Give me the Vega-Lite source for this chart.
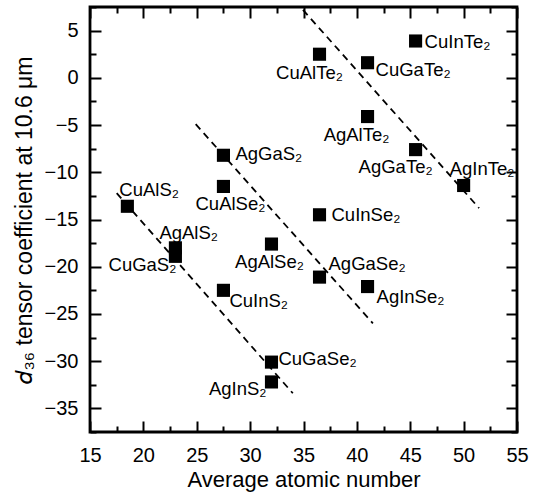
{
  "$schema": "https://vega.github.io/schema/vega-lite/v6.json",
  "width": 427,
  "height": 425,
  "autosize": {"type": "none"},
  "padding": {"left": 90, "top": 7, "right": 23, "bottom": 63},
  "config": {
    "view": {"stroke": "black", "strokeWidth": 2.8},
    "font": "Liberation Sans",
    "text": {"fontSize": 18.5, "color": "black", "baseline": "middle"},
    "axis": {"domain": false, "grid": false, "tickColor": "black", "tickWidth": 2, "labelColor": "black", "titleColor": "black", "labelFont": "Liberation Sans", "titleFont": "Liberation Sans", "titleFontWeight": "normal"}
  },
  "resolve": {"axis": {"x": "independent", "y": "independent"}},
  "data": {"name": "pts", "values": [
    {"name": "CuAlS₂", "x": 18.5, "y": -13.6},
    {"name": "AgAlS₂", "x": 23, "y": -18},
    {"name": "CuGaS₂", "x": 23, "y": -18.9},
    {"name": "CuInS₂", "x": 27.5, "y": -22.5},
    {"name": "CuGaSe₂", "x": 32, "y": -30.1},
    {"name": "AgInS₂", "x": 32, "y": -32.2},
    {"name": "AgGaS₂", "x": 27.5, "y": -8.2},
    {"name": "CuAlSe₂", "x": 27.5, "y": -11.5},
    {"name": "AgAlSe₂", "x": 32, "y": -17.6},
    {"name": "AgGaSe₂", "x": 36.5, "y": -21.1},
    {"name": "CuInSe₂", "x": 36.5, "y": -14.5},
    {"name": "AgInSe₂", "x": 41, "y": -22.1},
    {"name": "AgInTe₂", "x": 50, "y": -11.4},
    {"name": "AgGaTe₂", "x": 45.5, "y": -7.6},
    {"name": "AgAlTe₂", "x": 41, "y": -4.1},
    {"name": "CuGaTe₂", "x": 41, "y": 1.6},
    {"name": "CuAlTe₂", "x": 36.5, "y": 2.5},
    {"name": "CuInTe₂", "x": 45.5, "y": 3.9}
  ]},
  "layer": [
    {
      "mark": {"type": "square", "size": 172, "color": "black", "opacity": 1},
      "encoding": {
        "x": {"field": "x", "type": "quantitative", "scale": {"domain": [15, 55], "nice": false, "zero": false},
          "axis": {"orient": "bottom", "values": [15, 20, 25, 30, 35, 40, 45, 50, 55], "tickSize": -11, "labelPadding": 24, "labelFontSize": 20, "labelFlush": false, "title": "Average atomic number", "titleFontSize": 22, "titlePadding": 4}},
        "y": {"field": "y", "type": "quantitative", "scale": {"domain": [-37.5, 7.5], "nice": false, "zero": false},
          "axis": {"orient": "left", "values": [-35, -30, -25, -20, -15, -10, -5, 0, 5], "tickSize": -11, "labelPadding": 23, "labelFontSize": 20, "labelFlush": false, "title": "𝑑₃₆ tensor coefficient at 10.6 μm", "titleFontSize": 23, "titlePadding": 8}}
      }
    },
    {
      "data": {"values": [
        {"line": "S", "x": 17.5, "y": -12.2}, {"line": "S", "x": 34.0, "y": -33.4},
        {"line": "Se", "x": 24.9, "y": -4.9}, {"line": "Se", "x": 41.5, "y": -26.0},
        {"line": "Te", "x": 34.95, "y": 7.2}, {"line": "Te", "x": 51.45, "y": -13.8}
      ]},
      "mark": {"type": "line", "color": "black", "strokeWidth": 1.8, "strokeDash": [7, 5]},
      "encoding": {
        "x": {"field": "x", "type": "quantitative", "axis": {"orient": "top", "values": [15, 20, 25, 30, 35, 40, 45, 50, 55], "tickSize": -11, "labels": false, "title": null}},
        "y": {"field": "y", "type": "quantitative", "axis": {"orient": "right", "values": [-35, -30, -25, -20, -15, -10, -5, 0, 5], "tickSize": -11, "labels": false, "title": null}},
        "detail": {"field": "line"}
      }
    },
    {
      "transform": [{"filter": {"field": "name", "oneOf": ["CuInTe₂"]}}],
      "mark": {"type": "text", "align": "left", "dx": 9, "dy": 1},
      "encoding": {
        "x": {"field": "x", "type": "quantitative", "axis": {"orient": "bottom", "values": [17.5, 22.5, 27.5, 32.5, 37.5, 42.5, 47.5, 52.5], "tickSize": -6, "labels": false, "title": null}},
        "y": {"field": "y", "type": "quantitative", "axis": {"orient": "left", "values": [-37.5, -32.5, -27.5, -22.5, -17.5, -12.5, -7.5, -2.5, 2.5, 7.5], "tickSize": -6, "labels": false, "title": null}},
        "text": {"field": "name"}
      }
    },
    {
      "transform": [{"filter": {"field": "name", "oneOf": ["CuInSe₂"]}}],
      "mark": {"type": "text", "align": "left", "dx": 12, "dy": 0},
      "encoding": {
        "x": {"field": "x", "type": "quantitative", "axis": {"orient": "top", "values": [17.5, 22.5, 27.5, 32.5, 37.5, 42.5, 47.5, 52.5], "tickSize": -6, "labels": false, "title": null}},
        "y": {"field": "y", "type": "quantitative", "axis": {"orient": "right", "values": [-37.5, -32.5, -27.5, -22.5, -17.5, -12.5, -7.5, -2.5, 2.5, 7.5], "tickSize": -6, "labels": false, "title": null}},
        "text": {"field": "name"}
      }
    },
    {
      "transform": [{"filter": {"field": "name", "oneOf": ["AgGaS₂"]}}],
      "mark": {"type": "text", "align": "left", "dx": 12, "dy": -1},
      "encoding": {"x": {"field": "x", "type": "quantitative", "axis": null}, "y": {"field": "y", "type": "quantitative", "axis": null}, "text": {"field": "name"}}
    },
    {
      "transform": [{"filter": {"field": "name", "oneOf": ["CuGaTe₂"]}}],
      "mark": {"type": "text", "align": "left", "dx": 8, "dy": 7},
      "encoding": {"x": {"field": "x", "type": "quantitative", "axis": null}, "y": {"field": "y", "type": "quantitative", "axis": null}, "text": {"field": "name"}}
    },
    {
      "transform": [{"filter": {"field": "name", "oneOf": ["CuGaSe₂"]}}],
      "mark": {"type": "text", "align": "left", "dx": 7, "dy": -3},
      "encoding": {"x": {"field": "x", "type": "quantitative", "axis": null}, "y": {"field": "y", "type": "quantitative", "axis": null}, "text": {"field": "name"}}
    },
    {
      "transform": [{"filter": {"field": "name", "oneOf": ["CuInS₂"]}}],
      "mark": {"type": "text", "align": "left", "dx": 6, "dy": 11},
      "encoding": {"x": {"field": "x", "type": "quantitative", "axis": null}, "y": {"field": "y", "type": "quantitative", "axis": null}, "text": {"field": "name"}}
    },
    {
      "transform": [{"filter": {"field": "name", "oneOf": ["AgInSe₂"]}}],
      "mark": {"type": "text", "align": "left", "dx": 9, "dy": 10},
      "encoding": {"x": {"field": "x", "type": "quantitative", "axis": null}, "y": {"field": "y", "type": "quantitative", "axis": null}, "text": {"field": "name"}}
    },
    {
      "transform": [{"filter": {"field": "name", "oneOf": ["AgGaSe₂"]}}],
      "mark": {"type": "text", "align": "left", "dx": 9, "dy": -13},
      "encoding": {"x": {"field": "x", "type": "quantitative", "axis": null}, "y": {"field": "y", "type": "quantitative", "axis": null}, "text": {"field": "name"}}
    },
    {
      "transform": [{"filter": {"field": "name", "oneOf": ["CuAlS₂"]}}],
      "mark": {"type": "text", "align": "left", "dx": -8, "dy": -16},
      "encoding": {"x": {"field": "x", "type": "quantitative", "axis": null}, "y": {"field": "y", "type": "quantitative", "axis": null}, "text": {"field": "name"}}
    },
    {
      "transform": [{"filter": {"field": "name", "oneOf": ["AgAlS₂"]}}],
      "mark": {"type": "text", "align": "left", "dx": -16, "dy": -15},
      "encoding": {"x": {"field": "x", "type": "quantitative", "axis": null}, "y": {"field": "y", "type": "quantitative", "axis": null}, "text": {"field": "name"}}
    },
    {
      "transform": [{"filter": {"field": "name", "oneOf": ["AgInTe₂"]}}],
      "mark": {"type": "text", "align": "left", "dx": -14, "dy": -17},
      "encoding": {"x": {"field": "x", "type": "quantitative", "axis": null}, "y": {"field": "y", "type": "quantitative", "axis": null}, "text": {"field": "name"}}
    },
    {
      "transform": [{"filter": {"field": "name", "oneOf": ["CuAlSe₂"]}}],
      "mark": {"type": "text", "align": "center", "dx": 7, "dy": 18},
      "encoding": {"x": {"field": "x", "type": "quantitative", "axis": null}, "y": {"field": "y", "type": "quantitative", "axis": null}, "text": {"field": "name"}}
    },
    {
      "transform": [{"filter": {"field": "name", "oneOf": ["AgAlSe₂"]}}],
      "mark": {"type": "text", "align": "center", "dx": -2, "dy": 18},
      "encoding": {"x": {"field": "x", "type": "quantitative", "axis": null}, "y": {"field": "y", "type": "quantitative", "axis": null}, "text": {"field": "name"}}
    },
    {
      "transform": [{"filter": {"field": "name", "oneOf": ["AgAlTe₂"]}}],
      "mark": {"type": "text", "align": "center", "dx": -11, "dy": 18},
      "encoding": {"x": {"field": "x", "type": "quantitative", "axis": null}, "y": {"field": "y", "type": "quantitative", "axis": null}, "text": {"field": "name"}}
    },
    {
      "transform": [{"filter": {"field": "name", "oneOf": ["CuAlTe₂"]}}],
      "mark": {"type": "text", "align": "center", "dx": -10, "dy": 19},
      "encoding": {"x": {"field": "x", "type": "quantitative", "axis": null}, "y": {"field": "y", "type": "quantitative", "axis": null}, "text": {"field": "name"}}
    },
    {
      "transform": [{"filter": {"field": "name", "oneOf": ["AgGaTe₂"]}}],
      "mark": {"type": "text", "align": "center", "dx": -20, "dy": 17},
      "encoding": {"x": {"field": "x", "type": "quantitative", "axis": null}, "y": {"field": "y", "type": "quantitative", "axis": null}, "text": {"field": "name"}}
    },
    {
      "transform": [{"filter": {"field": "name", "oneOf": ["CuGaS₂"]}}],
      "mark": {"type": "text", "align": "right", "dx": 1, "dy": 9},
      "encoding": {"x": {"field": "x", "type": "quantitative", "axis": null}, "y": {"field": "y", "type": "quantitative", "axis": null}, "text": {"field": "name"}}
    },
    {
      "transform": [{"filter": {"field": "name", "oneOf": ["AgInS₂"]}}],
      "mark": {"type": "text", "align": "right", "dx": -5, "dy": 7},
      "encoding": {"x": {"field": "x", "type": "quantitative", "axis": null}, "y": {"field": "y", "type": "quantitative", "axis": null}, "text": {"field": "name"}}
    }
  ]
}
